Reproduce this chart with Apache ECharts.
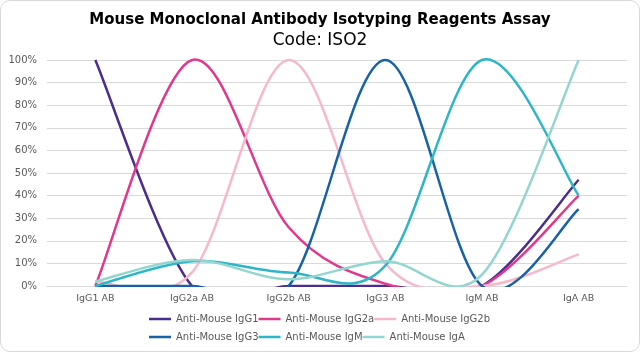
<!DOCTYPE html>
<html>
<head>
<meta charset="utf-8">
<script src="https://cdn.jsdelivr.net/npm/echarts@6/dist/echarts.min.js"></script>
<style>
    html, body { margin: 0; padding: 0; background: #fff; }
    #chart { width: 638px; height: 350px; border: 1px solid #d9d9d9; border-radius: 10px; overflow: hidden; }
</style>
</head>
<body>
<div id="chart"></div>
<script>
    // categories on the x axis
    var categories = ['IgG1 AB', 'IgG2a AB', 'IgG2b AB', 'IgG3 AB', 'IgM AB', 'IgA AB'];
    var seriesNames = ['Anti-Mouse IgG1', 'Anti-Mouse IgG2a', 'Anti-Mouse IgG2b',
                       'Anti-Mouse IgG3', 'Anti-Mouse IgM', 'Anti-Mouse IgA'];

    // percent reactivity
    var antiIgG1 = [100, 0, 0, 0, 0, 47];
    var antiIgG2a = [0, 100, 26, 1, 0, 40];
    var antiIgG2b = [2, 6, 100, 10, 0, 14];
    var antiIgG3 = [0, 0, 0, 100, 0, 34];
    var antiIgM = [0, 11, 6, 9, 100, 40];
    var antiIgA = [2, 11.5, 3, 11, 5, 100];

    var yTicks = [0, 10, 20, 30, 40, 50, 60, 70, 80, 90, 100];

    var allValues = [antiIgG1, antiIgG2a, antiIgG2b, antiIgG3, antiIgM, antiIgA];
    var colors = ['#4a2d8c', '#e0388b', '#f6b8cb', '#1762a4', '#2eb6c7', '#93d5cf'];

    var chartDom = document.getElementById('chart');
    var myChart = echarts.init(chartDom);

    // spreadsheet-style smoothing (catmull-rom through the points, as bezier segments)
    function smoothPath(pts) {
        var d = 'M' + pts[0][0] + ' ' + pts[0][1];
        for (var i = 0; i < pts.length - 1; i++) {
            var p0 = pts[i - 1] || pts[i];
            var p1 = pts[i];
            var p2 = pts[i + 1];
            var p3 = pts[i + 2] || pts[i + 1];
            var c1x = p1[0] + (p2[0] - p0[0]) / 6;
            var c1y = p1[1] + (p2[1] - p0[1]) / 6;
            var c2x = p2[0] - (p3[0] - p1[0]) / 6;
            var c2y = p2[1] - (p3[1] - p1[1]) / 6;
            d += ' C' + c1x + ' ' + c1y + ' ' + c2x + ' ' + c2y + ' ' + p2[0] + ' ' + p2[1];
        }
        return d;
    }

    var series = allValues.map(function (vals, i) {
        return {
            name: seriesNames[i],
            type: 'custom',
            coordinateSystem: 'cartesian2d',
            data: vals.map(function (v, k) { return [k, v]; }),
            encode: { x: 0, y: 1 },
            itemStyle: { color: colors[i] },
            renderItem: function (params, api) {
                if (params.dataIndex !== 0) return;
                var pts = vals.map(function (v, k) { return api.coord([k, v]); });
                var cs = params.coordSys;
                return {
                    type: 'path',
                    shape: { pathData: smoothPath(pts) },
                    style: { stroke: colors[i], lineWidth: 2.5, fill: null },
                    clipPath: {
                        type: 'rect',
                        shape: { x: cs.x - 2, y: cs.y - 2, width: cs.width + 4, height: cs.height + 3 }
                    }
                };
            }
        };
    });

    function legendRow(names, top) {
        return {
            data: names,
            top: top,
            left: 148,
            padding: 0,
            orient: 'horizontal',
            icon: 'rect',
            itemWidth: 22,
            itemHeight: 2.5,
            itemGap: 0,
            textStyle: {
                color: '#595959',
                fontFamily: 'DejaVu Sans',
                fontSize: 10,
                width: 89.5,
                overflow: 'none'
            }
        };
    }

    var option = {
        animation: false,
        title: {
            text: 'Mouse Monoclonal Antibody Isotyping Reagents Assay',
            subtext: 'Code: ISO2',
            left: 'center',
            top: 5,
            itemGap: 2,
            textStyle: {
                color: '#000',
                fontFamily: 'DejaVu Sans',
                fontWeight: 'bold',
                fontSize: 15,
                lineHeight: 18
            },
            subtextStyle: {
                color: '#000',
                fontFamily: 'DejaVu Sans',
                fontSize: 17,
                lineHeight: 20
            }
        },
        legend: [
            legendRow(seriesNames.slice(0, 3), 313),
            legendRow(seriesNames.slice(3, 6), 331)
        ],
        grid: {
            left: 46,
            right: 12,
            top: 59,
            bottom: 65
        },
        xAxis: {
            type: 'category',
            data: categories,
            boundaryGap: true,
            axisLine: { lineStyle: { color: '#d9d9d9' } },
            axisTick: { show: false },
            axisLabel: {
                color: '#595959',
                fontFamily: 'DejaVu Sans',
                fontSize: 9.5,
                margin: 8
            }
        },
        yAxis: {
            type: 'value',
            min: yTicks[0],
            max: yTicks[yTicks.length - 1],
            interval: 10,
            axisLine: { show: false },
            axisTick: { show: false },
            splitLine: { lineStyle: { color: '#d9d9d9', width: 1 } },
            axisLabel: {
                color: '#595959',
                fontFamily: 'DejaVu Sans',
                fontSize: 10,
                margin: 10,
                formatter: '{value}%'
            }
        },
        series: series
    };

    option && myChart.setOption(option);
</script>
</body>
</html>
